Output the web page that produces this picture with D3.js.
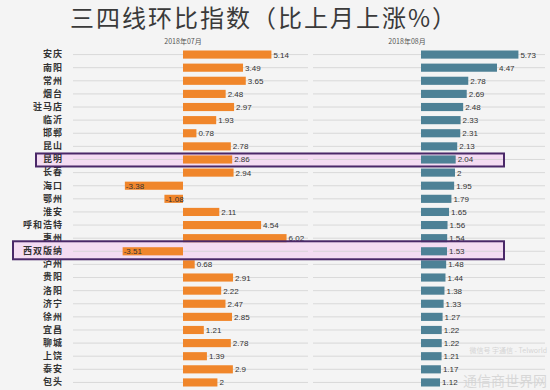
<!DOCTYPE html>
<html>
<head>
<meta charset="utf-8">
<script src="https://cdn.jsdelivr.net/npm/d3@7"></script>
<style>
  body { margin: 0; background: #f4f4f4; }
  svg { display: block; }
</style>
</head>
<body>
<svg id="main"></svg>
<script>
// cities, top to bottom
const cities = ["安庆", "南阳", "常州", "烟台", "驻马店", "临沂", "邯郸", "昆山", "昆明", "长春",
  "海口", "鄂州", "淮安", "呼和浩特", "惠州", "西双版纳", "泸州", "贵阳", "洛阳", "济宁",
  "徐州", "宜昌", "聊城", "上饶", "泰安", "包头"];
// month on month, %
const july = [5.14, 3.49, 3.65, 2.48, 2.97, 1.93, 0.78, 2.78, 2.86, 2.94,
  -3.38, -1.08, 2.11, 4.54, 6.02, -3.51, 0.68, 2.91, 2.22, 2.47,
  2.85, 1.21, 2.78, 1.39, 2.9, 2];
const august = [5.73, 4.47, 2.78, 2.69, 2.48, 2.33, 2.31, 2.13, 2.04, 2,
  1.95, 1.79, 1.65, 1.56, 1.54, 1.53, 1.48, 1.44, 1.38, 1.33,
  1.27, 1.22, 1.22, 1.21, 1.17, 1.12];
const months = ["2018年07月", "2018年08月"];

const width = 550, height = 390;
const svg = d3.select("#main").attr("width", width).attr("height", height);

// title
svg.append("text")
  .attr("x", 264).attr("y", 27)
  .attr("text-anchor", "middle")
  .style("font-family", "'Noto Sans CJK SC'")
  .style("font-size", "24px")
  .style("letter-spacing", "2px")
  .style("fill", "#3a3a3a")
  .text("三四线环比指数（比上月上涨%）");

var y = d3.scaleBand()
  .domain(cities)
  .range([48, 389])
  .paddingInner(0.38)
  .paddingOuter(0.19);

var xJul = d3.scaleLinear().domain([-4, 7]).range([183 - 4 * 17.2, 183 + 7 * 17.2]);
var xAug = d3.scaleLinear().domain([0, 7]).range([421, 421 + 7 * 17.0]);

// highlight boxes (fill under the bars)
const boxes = [{city: "昆明", x0: 36, up: 6, down: 7}, {city: "西双版纳", x0: 13, up: 10, down: 8}];
svg.selectAll("rect.hl")
  .data(boxes)
  .enter().append("rect")
  .attr("class", "hl")
  .attr("x", d => d.x0)
  .attr("y", d => y(d.city) + y.bandwidth() / 2 - d.up)
  .attr("width", d => 504 - d.x0)
  .attr("height", d => d.up + d.down)
  .attr("fill", "#f4dcf2");

// gridlines + city labels
var gridL = svg.append("g")
  .attr("transform", "translate(73,0)")
  .call(d3.axisLeft(y).tickSize(-235).tickPadding(10));
var gridR = svg.append("g")
  .attr("transform", "translate(313,0)")
  .call(d3.axisLeft(y).tickSize(-232).tickFormat(""));
svg.selectAll(".domain").remove();
svg.selectAll(".tick line")
  .attr("stroke", "#d2d2d2")
  .attr("stroke-width", 0.8);
gridL.selectAll(".tick text")
  .style("font-family", "'Noto Sans CJK SC'")
  .style("font-size", "9px")
  .style("letter-spacing", "1px")
  .style("font-weight", "bold")
  .style("fill", "#333");

// month headers
svg.selectAll("text.month")
  .data(months)
  .enter().append("text")
  .attr("class", "month")
  .attr("x", (d, i) => i == 0 ? 183 : 407)
  .attr("y", 44)
  .attr("text-anchor", "middle")
  .style("font-family", "'Noto Sans CJK SC'")
  .style("font-size", "7px")
  .style("fill", "#555")
  .text(d => d);

// July bars
svg.selectAll("rect.jul")
  .data(july)
  .enter().append("rect")
  .attr("class", "jul")
  .attr("x", d => xJul(Math.min(0, d)))
  .attr("y", (d, i) => y(cities[i]))
  .attr("width", d => Math.abs(xJul(d) - xJul(0)))
  .attr("height", y.bandwidth())
  .attr("fill", "#f0862b");

svg.selectAll("text.jul")
  .data(july)
  .enter().append("text")
  .attr("class", "jul")
  .attr("x", d => d < 0 ? xJul(d) + 1 : xJul(d) + 2)
  .attr("y", (d, i) => y(cities[i]) + y.bandwidth() / 2 + 3)
  .style("font-family", "'Liberation Sans'")
  .style("font-size", "8px")
  .style("fill", "#333")
  .text(d => d);

// August bars
svg.selectAll("rect.aug")
  .data(august)
  .enter().append("rect")
  .attr("class", "aug")
  .attr("x", xAug(0))
  .attr("y", (d, i) => y(cities[i]))
  .attr("width", d => xAug(d) - xAug(0))
  .attr("height", y.bandwidth())
  .attr("fill", "#4d8196");

svg.selectAll("text.aug")
  .data(august)
  .enter().append("text")
  .attr("class", "aug")
  .attr("x", d => xAug(d) + 2)
  .attr("y", (d, i) => y(cities[i]) + y.bandwidth() / 2 + 3)
  .style("font-family", "'Liberation Sans'")
  .style("font-size", "8px")
  .style("fill", "#333")
  .text(d => d);

// purple outlines on top
svg.selectAll("rect.hlb")
  .data(boxes)
  .enter().append("rect")
  .attr("class", "hlb")
  .attr("x", d => d.x0)
  .attr("y", d => y(d.city) + y.bandwidth() / 2 - d.up)
  .attr("width", d => 504 - d.x0)
  .attr("height", d => d.up + d.down)
  .attr("fill", "none")
  .attr("stroke", "#4a2868")
  .attr("stroke-width", 2);

// watermark
svg.append("text")
  .attr("x", 547).attr("y", 353)
  .attr("text-anchor", "end")
  .style("font-family", "'Noto Sans CJK SC'")
  .style("font-size", "7px")
  .style("fill", "#d4d4d4")
  .text("微信号 宇通信 - Telworld");
svg.append("text")
  .attr("x", 547).attr("y", 386)
  .attr("text-anchor", "end")
  .style("font-family", "'Noto Sans CJK SC'")
  .style("font-size", "14px")
  .style("fill", "#d0d0d0")
  .style("fill-opacity", 0.8)
  .text("通信商世界网");
</script>
</body>
</html>
